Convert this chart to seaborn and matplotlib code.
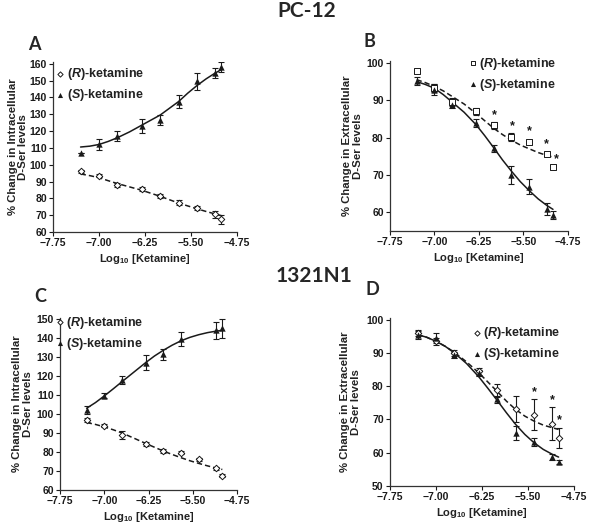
import matplotlib
matplotlib.use("Agg")
import matplotlib.pyplot as plt
import seaborn as sns

sns.set_style("ticks")
plt.rcParams['font.family'] = ['Liberation Sans', 'DejaVu Sans']
plt.rcParams['mathtext.fontset'] = 'custom'
plt.rcParams['mathtext.rm'] = 'Liberation Sans:bold'
plt.rcParams['mathtext.it'] = 'Liberation Sans:italic:bold'
plt.rcParams['mathtext.bf'] = 'Liberation Sans:bold'

# --- data (log10 molar dose) ---
dose = [-7.3, -7.0, -6.7, -6.3, -6.0, -5.7, -5.4, -5.1, -5.0]
dose_c_s = [-7.3, -7.0, -6.7, -6.3, -6.0, -5.7, -5.1, -5.0]
curve_x = [-7.3, -7.15, -7.0, -6.85, -6.7, -6.5, -6.3, -6.15, -6.0,
           -5.85, -5.7, -5.55, -5.4, -5.25, -5.1, -5.0]

# A: PC-12 intracellular
a_r = [96, 93.5, 88, 85.5, 81.5, 77.5, 74.5, 70.5, 67.5]
a_r_err = [1, 1, 1, 1, 1.2, 1.5, 1.2, 2, 2.5]
a_s = [107, 112, 117, 123, 126.5, 137.5, 149.5, 154.5, 158]
a_s_err = [0, 3, 3, 4, 3, 4, 5, 3, 3]
a_r_fit = [94.5, 93.5, 92.3, 90.5, 88.8, 86.8, 84.8, 83, 81.2, 79.2, 77.2, 75.5, 73.8, 72.2, 70.7, 69.7]
a_s_fit = [110.5, 111, 112, 113.8, 116, 119.5, 123.5, 126.5, 129.5, 133.5, 137.5, 142.5, 147, 151, 154.5, 156.5]

# B: PC-12 extracellular
b_r = [97.8, 93.3, 89.5, 87, 83.3, 80.2, 78.7, 75.7, 72.2]
b_r_err = [0.5, 1, 1, 1, 1, 1, 0.5, 0.5, 0.5]
b_s = [95.1, 92.8, 88.8, 83.9, 77.1, 70, 66.8, 60.9, 59.3]
b_s_err = [1, 1.5, 1, 1, 1, 2.5, 2, 1.5, 1]
b_r_fit = [95.5, 94.7, 93.7, 92.5, 91, 89, 86.5, 84.5, 82.5, 80.8, 79.3, 78, 77, 76, 75.2, 74.8]
b_s_fit = [95, 94.2, 93.2, 91.5, 89.5, 86.8, 83.5, 80.5, 77.3, 74, 71, 68.2, 65.8, 63.6, 61.8, 60.8]
b_star_x = [-5.99, -5.69, -5.40, -5.11, -4.94]
b_star_y = [86.1, 83.0, 81.7, 78.3, 74.3]

# C: 1321N1 intracellular
c_r = [96.7, 93.7, 88.8, 84, 80.4, 79.5, 76.3, 71.4, 67.5]
c_r_err = [1, 0.8, 2, 1, 1, 0.8, 0.8, 0.8, 0.8]
c_s = [102.2, 109.7, 118, 126.9, 131.4, 139.5, 144.1, 145.2]
c_s_err = [2, 1.5, 2, 4, 3, 3.5, 4.5, 5]
c_r_fit = [95.5, 94.5, 93.2, 91.7, 90, 87.3, 84.5, 82.5, 80.5, 78.7, 77, 75.4, 74, 72.7, 71.5, 70.8]
c_s_fit = [103, 106, 109.5, 113.2, 117, 122, 127, 130.5, 133.5, 136.2, 138.5, 140.3, 141.7, 142.8, 143.6, 144]

# D: 1321N1 extracellular
d_r = [96, 93.5, 90, 84.5, 78.8, 73.1, 71.4, 68.7, 64.4]
d_r_err = [1, 1, 1, 1, 2, 4, 4.7, 4.9, 3]
d_s = [95.5, 94.4, 89.4, 84, 76, 65.9, 63.2, 58.7, 57.2]
d_s_err = [1.2, 1.5, 1, 1, 1, 2, 1.2, 1, 0.5]
d_r_fit = [95.5, 94.7, 93.5, 92, 90.2, 87.3, 84, 81.2, 78.4, 75.5, 73, 71, 69.5, 68.3, 67.5, 67]
d_s_fit = [95.5, 94.7, 93.5, 92, 90, 86.8, 82.8, 79.3, 75.7, 72, 68.5, 65.5, 63, 61, 59.5, 58.7]
d_star_x = [-5.40, -5.10, -4.99]
d_star_y = [78.1, 75.8, 69.9]

xticks = [-7.75, -7.00, -6.25, -5.50, -4.75]
ink = '#1a1a1a'

fig = plt.figure(figsize=(5.89, 5.29), dpi=100)


def panel(rect, r, r_err, s, s_err, r_fit, s_fit, r_marker, ylim, yticks, ylabel,
          legend_pos, ylab_x, s_x=dose, stars=None):
    ax = fig.add_axes(rect)
    # fitted curves
    sns.lineplot(x=curve_x, y=s_fit, ax=ax, color=ink, lw=1.1, linestyle='-')
    sns.lineplot(x=curve_x, y=r_fit, ax=ax, color=ink, lw=1.1, linestyle=(0, (3.5, 2)))
    # error bars
    ax.errorbar(dose, r, yerr=r_err, fmt='none', ecolor=ink, elinewidth=0.8, capsize=2.2, capthick=0.8)
    ax.errorbar(s_x, s, yerr=s_err, fmt='none', ecolor=ink, elinewidth=0.8, capsize=2.2, capthick=0.8)
    # points
    rsize = 11 if r_marker == 'D' else 17
    ax.scatter(dose, r, marker=r_marker, s=rsize, facecolor='white', edgecolor=ink, lw=0.7,
               zorder=4, label=r'($\mathit{R}$)-ketamine')
    ax.scatter(s_x, s, marker='^', s=21, color=ink, lw=0, zorder=4,
               label=r'($\mathit{S}$)-ketamine')
    if stars is not None:
        for sx, sy in zip(*stars):
            ax.text(sx, sy, '*', ha='center', va='center', fontsize=9, color=ink, fontweight='bold')
    ax.set_xlim(-7.75, -4.75)
    ax.set_ylim(*ylim)
    ax.set_xticks(xticks)
    ax.set_xticklabels([f"{v:.2f}".replace('-', '\u2212') for v in xticks], fontsize=7.5, fontweight='bold')
    ax.set_yticks(yticks)
    ax.set_yticklabels([str(v) for v in yticks], fontsize=7.5, fontweight='bold')
    ax.tick_params(length=3, width=0.8, pad=1.5, colors=ink)
    for sp in ['left', 'bottom']:
        ax.spines[sp].set_linewidth(0.9)
        ax.spines[sp].set_color('#333333')
    sns.despine(ax=ax)
    ax.set_xlabel(r'Log$_{10}$ [Ketamine]', fontsize=8, labelpad=3, color='#222222', fontweight='bold')
    ax.set_ylabel(ylabel, fontsize=8.2, linespacing=1.05, color='#222222', fontweight='bold')
    ax.yaxis.set_label_coords(ylab_x, 0.5)
    leg = ax.legend(loc='upper left', bbox_to_anchor=legend_pos, bbox_transform=fig.transFigure,
                    frameon=False, handletextpad=0.05, labelspacing=0.4,
                    borderaxespad=0, borderpad=0, handlelength=0.9, markerscale=0.8,
                    prop={'size': 9, 'weight': 'bold'})
    for t in leg.get_texts():
        t.set_color('#222222')
    return ax


intra = '% Change in Intracellular\nD-Ser levels'
extra = '% Change in Extracellular\nD-Ser levels'

panel([0.090, 0.5614, 0.312, 0.3214], a_r, a_r_err, a_s, a_s_err, a_r_fit, a_s_fit, 'D',
      (60, 161), list(range(60, 161, 10)), intra, (0.093, 0.875), -0.135)
panel([0.662, 0.5633, 0.302, 0.3214], b_r, b_r_err, b_s, b_s_err, b_r_fit, b_s_fit, 's',
      (55, 100.5), [60, 70, 80, 90, 100], extra, (0.793, 0.895), -0.152, stars=(b_star_x, b_star_y))
panel([0.102, 0.0737, 0.3005, 0.3252], c_r, c_r_err, c_s, c_s_err, c_r_fit, c_s_fit, 'D',
      (60, 150.5), list(range(60, 151, 10)), intra, (0.092, 0.405), -0.155, s_x=dose_c_s)
panel([0.662, 0.0813, 0.3124, 0.3176], d_r, d_r_err, d_s, d_s_err, d_r_fit, d_s_fit, 'D',
      (50, 100.5), [50, 60, 70, 80, 90, 100], extra, (0.8, 0.385), -0.158, stars=(d_star_x, d_star_y))

title_font = ['Lato', 'DejaVu Sans']
fig.text(0.521, 0.979, 'PC-12', ha='center', va='center', fontsize=15, fontweight='bold', family=title_font)
fig.text(0.533, 0.478, '1321N1', ha='center', va='center', fontsize=15, fontweight='bold', family=title_font)
for lab, x, y in [('A', 0.059, 0.915), ('B', 0.628, 0.921), ('C', 0.068, 0.44), ('D', 0.633, 0.452)]:
    fig.text(x, y, lab, ha='center', va='center', fontsize=13, fontweight='bold', family=title_font)

fig.savefig('out.png', dpi=100)
